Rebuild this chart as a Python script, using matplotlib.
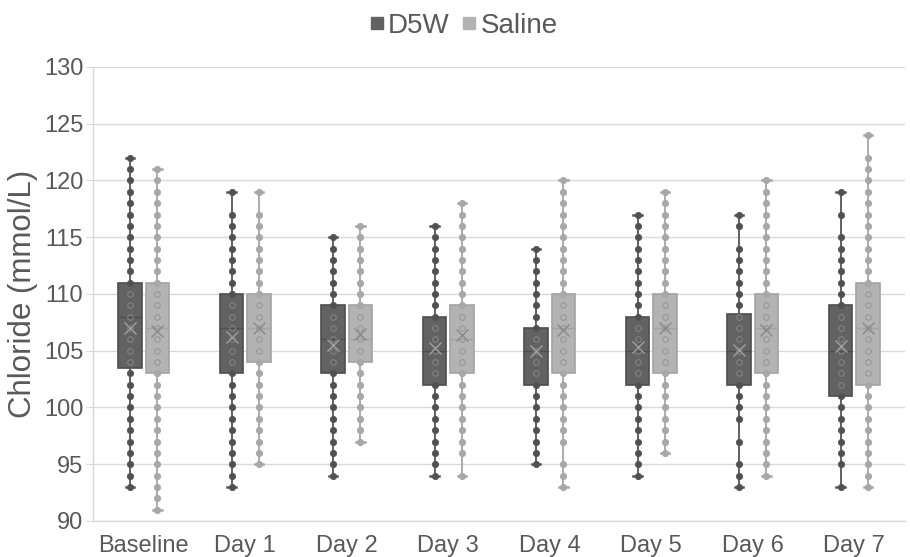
import matplotlib
matplotlib.use("Agg")
import matplotlib.pyplot as plt
from matplotlib.lines import Line2D

plt.rcParams['font.family'] = ['Liberation Sans', 'DejaVu Sans']

categories = ["Baseline", "Day 1", "Day 2", "Day 3", "Day 4", "Day 5", "Day 6", "Day 7"]
series_names = ["D5W", "Saline"]

d5w_q1 = [103.5, 103, 103, 102, 102, 102, 102, 101]
d5w_med = [108, 107, 106, 105, 105, 105, 105, 105]
d5w_q3 = [111, 110, 109, 108, 107, 108, 108.2, 109]
d5w_mean = [107, 106.2, 105.5, 105.2, 105, 105.3, 105.1, 105.4]
d5w_lo = [93, 93, 94, 94, 95, 94, 93, 93]
d5w_hi = [122, 119, 115, 116, 114, 117, 117, 119]

saline_q1 = [103, 104, 104, 103, 103, 103, 103, 102]
saline_med = [107, 107, 106, 106, 107, 107, 107, 107]
saline_q3 = [111, 110, 109, 109, 110, 110, 110, 111]
saline_mean = [106.7, 107, 106.5, 106.4, 106.8, 107, 106.8, 107]
saline_lo = [91, 95, 97, 94, 93, 96, 94, 93]
saline_hi = [121, 119, 116, 118, 120, 119, 120, 124]

d5w_points = [
    [93, 94, 95, 96, 97, 98, 99, 100, 101, 102, 103, 104, 105, 106, 107, 108, 109, 110, 111, 112, 113, 114, 115, 116, 117, 118, 119, 120, 121, 122],
    [93, 94, 95, 96, 97, 98, 99, 100, 101, 102, 103, 104, 105, 106, 107, 108, 109, 110, 111, 112, 113, 114, 115, 116, 117, 119],
    [94, 95, 96, 97, 98, 99, 100, 101, 102, 103, 104, 105, 106, 107, 108, 109, 110, 111, 112, 113, 114, 115],
    [94, 95, 96, 97, 98, 99, 100, 101, 102, 103, 104, 105, 106, 107, 108, 109, 110, 111, 112, 113, 114, 115, 116],
    [95, 96, 97, 98, 99, 100, 101, 102, 103, 104, 105, 106, 107, 108, 109, 110, 111, 112, 113, 114],
    [94, 95, 96, 97, 98, 99, 100, 101, 102, 103, 104, 105, 106, 107, 108, 109, 110, 111, 112, 113, 114, 115, 116, 117],
    [93, 94, 95, 97, 99, 100, 101, 102, 103, 104, 105, 106, 107, 108, 109, 110, 111, 112, 113, 114, 116, 117],
    [93, 95, 96, 97, 98, 99, 100, 101, 102, 103, 104, 105, 106, 107, 108, 109, 110, 111, 112, 113, 114, 115, 117, 119],
]
saline_points = [
    [91, 92, 93, 94, 95, 96, 97, 98, 99, 100, 101, 102, 103, 104, 105, 106, 107, 108, 109, 110, 111, 112, 113, 114, 115, 116, 117, 118, 119, 120, 121],
    [95, 96, 97, 98, 99, 100, 101, 102, 103, 104, 105, 106, 107, 108, 109, 110, 111, 112, 113, 114, 115, 116, 117, 119],
    [97, 98, 99, 100, 101, 102, 103, 104, 105, 106, 107, 108, 109, 110, 111, 112, 113, 114, 115, 116],
    [94, 96, 97, 98, 99, 100, 101, 102, 103, 104, 105, 106, 107, 108, 109, 110, 111, 112, 113, 114, 115, 116, 117, 118],
    [93, 94, 95, 97, 98, 99, 100, 101, 102, 103, 104, 105, 106, 107, 108, 109, 110, 111, 112, 113, 114, 115, 116, 117, 118, 119, 120],
    [96, 97, 98, 99, 100, 101, 102, 103, 104, 105, 106, 107, 108, 109, 110, 111, 112, 113, 114, 115, 116, 117, 118, 119],
    [94, 95, 96, 97, 98, 99, 100, 101, 102, 103, 104, 105, 106, 107, 108, 109, 110, 111, 112, 113, 114, 115, 116, 117, 118, 119, 120],
    [93, 94, 95, 96, 97, 98, 99, 100, 101, 102, 103, 104, 105, 106, 107, 108, 109, 110, 111, 112, 113, 114, 115, 116, 117, 118, 119, 120, 121, 122, 124],
]

styles = {
    "D5W": dict(fill="#626262", edge="#4e4e4e", line="#555555", dot="#505050",
                inner="#8c8c8c", mean="#a0a0a0"),
    "Saline": dict(fill="#b3b3b3", edge="#a3a3a3", line="#a6a6a6", dot="#a8a8a8",
                   inner="#8f8f8f", mean="#8a8a8a"),
}

fig = plt.figure(figsize=(9.10, 5.57), dpi=100)
ax = fig.add_axes([93 / 910, 36 / 557, 812 / 910, 454 / 557])

offset = 0.135
width = 0.235
series = [
    ("D5W", d5w_q1, d5w_med, d5w_q3, d5w_mean, d5w_lo, d5w_hi, d5w_points, -offset),
    ("Saline", saline_q1, saline_med, saline_q3, saline_mean, saline_lo, saline_hi, saline_points, offset),
]

for name, q1, med, q3, mean, lo, hi, pts, off in series:
    st = styles[name]
    stats = []
    for i in range(len(categories)):
        stats.append(dict(q1=q1[i], med=med[i], q3=q3[i], mean=mean[i],
                          whislo=lo[i], whishi=hi[i], fliers=[]))
    positions = [i + off for i in range(len(categories))]
    ax.bxp(stats, positions=positions, widths=width, patch_artist=True,
           showmeans=True, showfliers=False,
           boxprops=dict(facecolor=st["fill"], edgecolor=st["edge"], linewidth=1.2),
           whiskerprops=dict(color=st["line"], linewidth=1.3),
           capprops=dict(color=st["line"], linewidth=1.8),
           capwidths=0.08,
           medianprops=dict(color=st["edge"], linewidth=1.0),
           meanprops=dict(marker="x", markeredgecolor=st["mean"], markersize=9,
                          markeredgewidth=1.0),
           zorder=2)
    for i, vals in enumerate(pts):
        x = i + off
        outer = [v for v in vals if not (q1[i] < v < q3[i])]
        inner = [v for v in vals if q1[i] < v < q3[i]]
        ax.plot([x] * len(outer), outer, linestyle="none", marker="o", markersize=4.5,
                markerfacecolor=st["dot"], markeredgecolor=st["line"], markeredgewidth=0.6,
                zorder=4)
        ax.plot([x] * len(inner), inner, linestyle="none", marker="o", markersize=4.0,
                markerfacecolor="none", markeredgecolor=st["inner"], markeredgewidth=0.6,
                zorder=4)

ax.set_xlim(-0.5, len(categories) - 0.5)
ax.set_ylim(90, 130)
ax.set_yticks([90, 95, 100, 105, 110, 115, 120, 125, 130])
ax.set_xticks(range(len(categories)))
ax.set_xticklabels(categories)
ax.yaxis.grid(True, color="#d9d9d9", linewidth=1.0)
ax.set_axisbelow(True)
for s in ["top", "right"]:
    ax.spines[s].set_visible(False)
for s in ["left", "bottom"]:
    ax.spines[s].set_color("#d9d9d9")
    ax.spines[s].set_linewidth(1.0)
ax.tick_params(axis="x", length=0, labelsize=17, colors="#595959", pad=10)
ax.tick_params(axis="y", length=5, color="#d9d9d9", labelsize=17, labelcolor="#595959", pad=2)
ax.set_ylabel("Chloride (mmol/L)", fontsize=22.5, color="#595959", labelpad=4)

handles = [Line2D([], [], linestyle="none", marker="s", markersize=9,
                  markerfacecolor=styles[n]["fill"], markeredgecolor=styles[n]["fill"])
           for n in series_names]
fig.legend(handles, series_names, loc="upper center", bbox_to_anchor=(0.509, 1.022),
           ncol=2, frameon=False, fontsize=20, handlelength=0.6, handletextpad=0.1,
           columnspacing=0.4, labelcolor="#595959")

fig.savefig("out.png", dpi=100)
